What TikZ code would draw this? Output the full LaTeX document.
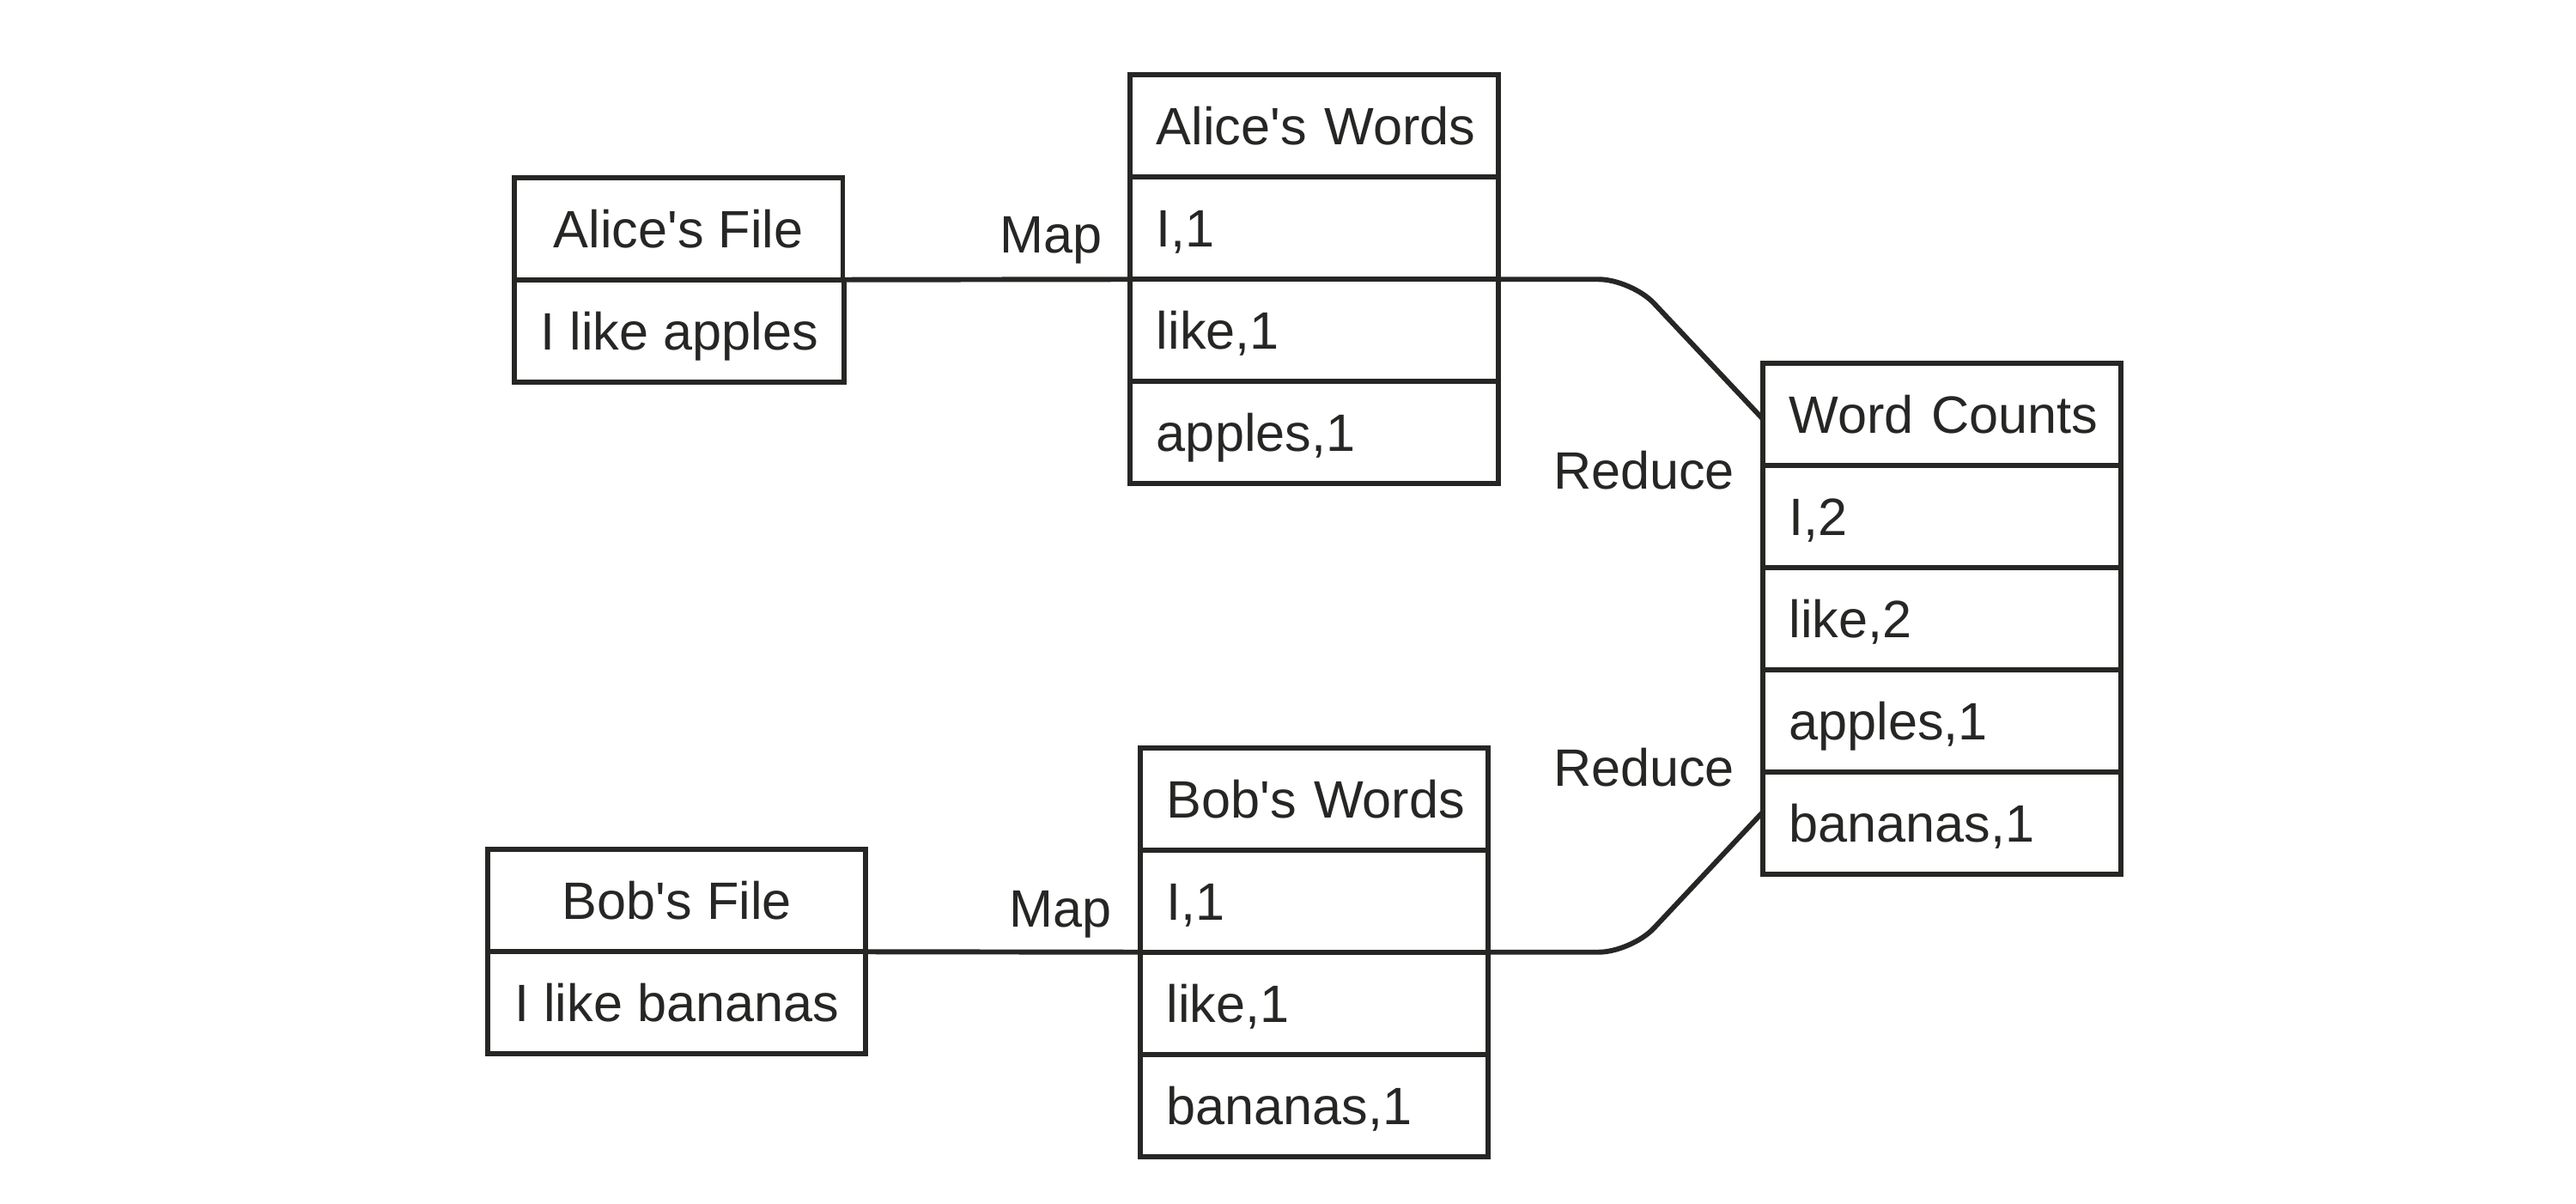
\documentclass[tikz,border=0pt]{standalone}
\usepackage{fontspec}
\newfontfamily\dfont{Liberation Sans}
\usetikzlibrary{calc}
\definecolor{ink}{RGB}{38,38,36}
\newcommand{\apos}{\textquotesingle}
\begin{document}
\begin{tikzpicture}[x=1pt,y=-1pt,
  cell/.style={draw=ink, line width=3.1pt, text=ink, font=\dfont\fontsize{32}{38}\selectfont,
    minimum height=62.25pt, inner xsep=16pt, inner ysep=0pt, outer sep=0pt,
    text height=23pt, text depth=0pt, anchor=north west},
  ccell/.style={cell, minimum width=#1pt, align=center},
  lcell/.style={cell, text width=#1pt, align=left},
  link/.style={draw=ink, line width=3.1pt, rounded corners=20pt},
  lab/.style={text=ink, font=\dfont\fontsize{32}{38}\selectfont, inner sep=0pt, anchor=base east}]
\useasboundingbox (0,0) rectangle (1568,732.27);

% Alice's File
\node[ccell=200] (af1) at (313,108) {Alice\apos s File};
\node[ccell=200] (af2) at (af1.south west) {I like apples};

% Alice's Words
\node[lcell=192] (aw1) at (688,45.5) {\mbox{Alice\apos s Words}};
\node[lcell=192] (aw2) at (aw1.south west) {I,1};
\node[lcell=192] (aw3) at (aw2.south west) {like,1};
\node[lcell=192] (aw4) at (aw3.south west) {apples,1};

% Word Counts
\node[lcell=186] (wc1) at (1073,221) {\mbox{Word Counts}};
\node[lcell=186] (wc2) at (wc1.south west) {I,2};
\node[lcell=186] (wc3) at (wc2.south west) {like,2};
\node[lcell=186] (wc4) at (wc3.south west) {apples,1};
\node[lcell=186] (wc5) at (wc4.south west) {bananas,1};

% Bob's File
\node[ccell=230] (bf1) at (297,517) {Bob\apos s File};
\node[ccell=230] (bf2) at (bf1.south west) {I like bananas};

% Bob's Words
\node[lcell=180] (bw1) at (694,455) {\mbox{Bob\apos s Words}};
\node[lcell=180] (bw2) at (bw1.south west) {I,1};
\node[lcell=180] (bw3) at (bw2.south west) {like,1};
\node[lcell=180] (bw4) at (bw3.south west) {bananas,1};

% connectors
\coordinate (ua) at ($(wc1.north west)+(0,34)$);
\coordinate (lb) at ($(wc5.south west)+(0,-38)$);
\coordinate (uc) at ($(aw2.south east -| ua)+(-80,0)$);
\coordinate (lc) at ($(bw2.south east -| lb)+(-80,0)$);

\draw[link] (af1.south east) -- (aw2.south west);
\draw[link] (aw2.south east) -- (uc) -- (ua);
\draw[link] (bf1.south east) -- (bw2.south west);
\draw[link] (bw2.south east) -- (lc) -- (lb);

% labels
\node[lab] (m1) at ($(aw2.south west)+(-17,-16)$) {Map};
\node[lab] (m2) at ($(bw2.south west)+(-17,-15.5)$) {Map};
\node[lab] (r1) at ($(ua)+(-17,42.5)$) {Reduce};
\node[lab] (r2) at ($(lb)+(-17,-16)$) {Reduce};
\end{tikzpicture}
\end{document}
